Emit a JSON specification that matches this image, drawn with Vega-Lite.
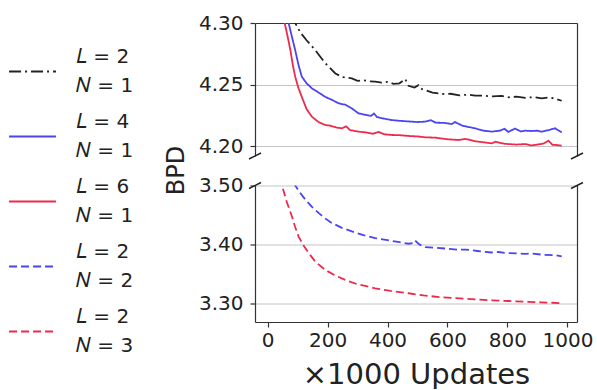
{
  "$schema": "https://vega.github.io/schema/vega-lite/v6.json",
  "padding": {"top": 13, "left": 8, "right": 5, "bottom": 0},
  "background": "white",
  "datasets": {
    "curves": [
      {"s": "𝐿 = 2|𝑁 = 1", "u": 10, "v": 4.70}, {"s": "𝐿 = 2|𝑁 = 1", "u": 30, "v": 4.50}, {"s": "𝐿 = 2|𝑁 = 1", "u": 50, "v": 4.40}, {"s": "𝐿 = 2|𝑁 = 1", "u": 70, "v": 4.34}, {"s": "𝐿 = 2|𝑁 = 1", "u": 92, "v": 4.30}, {"s": "𝐿 = 2|𝑁 = 1", "u": 110, "v": 4.292}, {"s": "𝐿 = 2|𝑁 = 1", "u": 130, "v": 4.286}, {"s": "𝐿 = 2|𝑁 = 1", "u": 159, "v": 4.278}, {"s": "𝐿 = 2|𝑁 = 1", "u": 190, "v": 4.268}, {"s": "𝐿 = 2|𝑁 = 1", "u": 226, "v": 4.259}, {"s": "𝐿 = 2|𝑁 = 1", "u": 250, "v": 4.256}, {"s": "𝐿 = 2|𝑁 = 1", "u": 281, "v": 4.255}, {"s": "𝐿 = 2|𝑁 = 1", "u": 300, "v": 4.253}, {"s": "𝐿 = 2|𝑁 = 1", "u": 320, "v": 4.2535}, {"s": "𝐿 = 2|𝑁 = 1", "u": 340, "v": 4.2525}, {"s": "𝐿 = 2|𝑁 = 1", "u": 359, "v": 4.2523}, {"s": "𝐿 = 2|𝑁 = 1", "u": 380, "v": 4.2515}, {"s": "𝐿 = 2|𝑁 = 1", "u": 400, "v": 4.2522}, {"s": "𝐿 = 2|𝑁 = 1", "u": 420, "v": 4.2505}, {"s": "𝐿 = 2|𝑁 = 1", "u": 440, "v": 4.251}, {"s": "𝐿 = 2|𝑁 = 1", "u": 459, "v": 4.2545}, {"s": "𝐿 = 2|𝑁 = 1", "u": 470, "v": 4.249}, {"s": "𝐿 = 2|𝑁 = 1", "u": 490, "v": 4.2475}, {"s": "𝐿 = 2|𝑁 = 1", "u": 503, "v": 4.2495}, {"s": "𝐿 = 2|𝑁 = 1", "u": 515, "v": 4.2462}, {"s": "𝐿 = 2|𝑁 = 1", "u": 526, "v": 4.2455}, {"s": "𝐿 = 2|𝑁 = 1", "u": 550, "v": 4.2435}, {"s": "𝐿 = 2|𝑁 = 1", "u": 581, "v": 4.2423}, {"s": "𝐿 = 2|𝑁 = 1", "u": 610, "v": 4.2425}, {"s": "𝐿 = 2|𝑁 = 1", "u": 640, "v": 4.2412}, {"s": "𝐿 = 2|𝑁 = 1", "u": 670, "v": 4.2418}, {"s": "𝐿 = 2|𝑁 = 1", "u": 692, "v": 4.2409}, {"s": "𝐿 = 2|𝑁 = 1", "u": 720, "v": 4.241}, {"s": "𝐿 = 2|𝑁 = 1", "u": 750, "v": 4.2403}, {"s": "𝐿 = 2|𝑁 = 1", "u": 780, "v": 4.2408}, {"s": "𝐿 = 2|𝑁 = 1", "u": 803, "v": 4.2396}, {"s": "𝐿 = 2|𝑁 = 1", "u": 830, "v": 4.2402}, {"s": "𝐿 = 2|𝑁 = 1", "u": 860, "v": 4.2392}, {"s": "𝐿 = 2|𝑁 = 1", "u": 890, "v": 4.2398}, {"s": "𝐿 = 2|𝑁 = 1", "u": 914, "v": 4.2388}, {"s": "𝐿 = 2|𝑁 = 1", "u": 940, "v": 4.2395}, {"s": "𝐿 = 2|𝑁 = 1", "u": 960, "v": 4.2385}, {"s": "𝐿 = 2|𝑁 = 1", "u": 981, "v": 4.2368},

      {"s": "𝐿 = 4|𝑁 = 1", "u": 10, "v": 4.75}, {"s": "𝐿 = 4|𝑁 = 1", "u": 30, "v": 4.50}, {"s": "𝐿 = 4|𝑁 = 1", "u": 50, "v": 4.36}, {"s": "𝐿 = 4|𝑁 = 1", "u": 70, "v": 4.30}, {"s": "𝐿 = 4|𝑁 = 1", "u": 82, "v": 4.288}, {"s": "𝐿 = 4|𝑁 = 1", "u": 92, "v": 4.278}, {"s": "𝐿 = 4|𝑁 = 1", "u": 103, "v": 4.266}, {"s": "𝐿 = 4|𝑁 = 1", "u": 114, "v": 4.2564}, {"s": "𝐿 = 4|𝑁 = 1", "u": 130, "v": 4.251}, {"s": "𝐿 = 4|𝑁 = 1", "u": 148, "v": 4.2469}, {"s": "𝐿 = 4|𝑁 = 1", "u": 170, "v": 4.2435}, {"s": "𝐿 = 4|𝑁 = 1", "u": 192, "v": 4.240}, {"s": "𝐿 = 4|𝑁 = 1", "u": 215, "v": 4.2375}, {"s": "𝐿 = 4|𝑁 = 1", "u": 237, "v": 4.2347}, {"s": "𝐿 = 4|𝑁 = 1", "u": 260, "v": 4.2335}, {"s": "𝐿 = 4|𝑁 = 1", "u": 281, "v": 4.2306}, {"s": "𝐿 = 4|𝑁 = 1", "u": 303, "v": 4.2266}, {"s": "𝐿 = 4|𝑁 = 1", "u": 330, "v": 4.2252}, {"s": "𝐿 = 4|𝑁 = 1", "u": 345, "v": 4.2245}, {"s": "𝐿 = 4|𝑁 = 1", "u": 355, "v": 4.2264}, {"s": "𝐿 = 4|𝑁 = 1", "u": 365, "v": 4.2235}, {"s": "𝐿 = 4|𝑁 = 1", "u": 390, "v": 4.2222}, {"s": "𝐿 = 4|𝑁 = 1", "u": 414, "v": 4.2211}, {"s": "𝐿 = 4|𝑁 = 1", "u": 440, "v": 4.2205}, {"s": "𝐿 = 4|𝑁 = 1", "u": 470, "v": 4.2200}, {"s": "𝐿 = 4|𝑁 = 1", "u": 500, "v": 4.2195}, {"s": "𝐿 = 4|𝑁 = 1", "u": 526, "v": 4.2198}, {"s": "𝐿 = 4|𝑁 = 1", "u": 545, "v": 4.2210}, {"s": "𝐿 = 4|𝑁 = 1", "u": 560, "v": 4.2190}, {"s": "𝐿 = 4|𝑁 = 1", "u": 590, "v": 4.2188}, {"s": "𝐿 = 4|𝑁 = 1", "u": 614, "v": 4.2179}, {"s": "𝐿 = 4|𝑁 = 1", "u": 625, "v": 4.2195}, {"s": "𝐿 = 4|𝑁 = 1", "u": 650, "v": 4.2165}, {"s": "𝐿 = 4|𝑁 = 1", "u": 692, "v": 4.2144}, {"s": "𝐿 = 4|𝑁 = 1", "u": 720, "v": 4.2125}, {"s": "𝐿 = 4|𝑁 = 1", "u": 748, "v": 4.2117}, {"s": "𝐿 = 4|𝑁 = 1", "u": 775, "v": 4.2125}, {"s": "𝐿 = 4|𝑁 = 1", "u": 790, "v": 4.2140}, {"s": "𝐿 = 4|𝑁 = 1", "u": 803, "v": 4.2115}, {"s": "𝐿 = 4|𝑁 = 1", "u": 825, "v": 4.2142}, {"s": "𝐿 = 4|𝑁 = 1", "u": 845, "v": 4.2118}, {"s": "𝐿 = 4|𝑁 = 1", "u": 859, "v": 4.2125}, {"s": "𝐿 = 4|𝑁 = 1", "u": 880, "v": 4.2122}, {"s": "𝐿 = 4|𝑁 = 1", "u": 900, "v": 4.2125}, {"s": "𝐿 = 4|𝑁 = 1", "u": 914, "v": 4.2117}, {"s": "𝐿 = 4|𝑁 = 1", "u": 935, "v": 4.2128}, {"s": "𝐿 = 4|𝑁 = 1", "u": 959, "v": 4.2144}, {"s": "𝐿 = 4|𝑁 = 1", "u": 981, "v": 4.2111},

      {"s": "𝐿 = 6|𝑁 = 1", "u": 10, "v": 4.70}, {"s": "𝐿 = 6|𝑁 = 1", "u": 30, "v": 4.45}, {"s": "𝐿 = 6|𝑁 = 1", "u": 45, "v": 4.34}, {"s": "𝐿 = 6|𝑁 = 1", "u": 57, "v": 4.30}, {"s": "𝐿 = 6|𝑁 = 1", "u": 66, "v": 4.29}, {"s": "𝐿 = 6|𝑁 = 1", "u": 76, "v": 4.278}, {"s": "𝐿 = 6|𝑁 = 1", "u": 84, "v": 4.266}, {"s": "𝐿 = 6|𝑁 = 1", "u": 92, "v": 4.2564}, {"s": "𝐿 = 6|𝑁 = 1", "u": 103, "v": 4.247}, {"s": "𝐿 = 6|𝑁 = 1", "u": 114, "v": 4.240}, {"s": "𝐿 = 6|𝑁 = 1", "u": 130, "v": 4.230}, {"s": "𝐿 = 6|𝑁 = 1", "u": 148, "v": 4.2238}, {"s": "𝐿 = 6|𝑁 = 1", "u": 170, "v": 4.2195}, {"s": "𝐿 = 6|𝑁 = 1", "u": 192, "v": 4.2171}, {"s": "𝐿 = 6|𝑁 = 1", "u": 210, "v": 4.2165}, {"s": "𝐿 = 6|𝑁 = 1", "u": 230, "v": 4.2150}, {"s": "𝐿 = 6|𝑁 = 1", "u": 248, "v": 4.2144}, {"s": "𝐿 = 6|𝑁 = 1", "u": 262, "v": 4.2160}, {"s": "𝐿 = 6|𝑁 = 1", "u": 275, "v": 4.2130}, {"s": "𝐿 = 6|𝑁 = 1", "u": 303, "v": 4.2117}, {"s": "𝐿 = 6|𝑁 = 1", "u": 330, "v": 4.2110}, {"s": "𝐿 = 6|𝑁 = 1", "u": 350, "v": 4.2100}, {"s": "𝐿 = 6|𝑁 = 1", "u": 370, "v": 4.2114}, {"s": "𝐿 = 6|𝑁 = 1", "u": 390, "v": 4.2095}, {"s": "𝐿 = 6|𝑁 = 1", "u": 414, "v": 4.2090}, {"s": "𝐿 = 6|𝑁 = 1", "u": 440, "v": 4.2088}, {"s": "𝐿 = 6|𝑁 = 1", "u": 470, "v": 4.2082}, {"s": "𝐿 = 6|𝑁 = 1", "u": 500, "v": 4.2078}, {"s": "𝐿 = 6|𝑁 = 1", "u": 526, "v": 4.2071}, {"s": "𝐿 = 6|𝑁 = 1", "u": 560, "v": 4.2068}, {"s": "𝐿 = 6|𝑁 = 1", "u": 600, "v": 4.2055}, {"s": "𝐿 = 6|𝑁 = 1", "u": 637, "v": 4.2049}, {"s": "𝐿 = 6|𝑁 = 1", "u": 660, "v": 4.2058}, {"s": "𝐿 = 6|𝑁 = 1", "u": 690, "v": 4.2040}, {"s": "𝐿 = 6|𝑁 = 1", "u": 720, "v": 4.2030}, {"s": "𝐿 = 6|𝑁 = 1", "u": 748, "v": 4.2022}, {"s": "𝐿 = 6|𝑁 = 1", "u": 760, "v": 4.2035}, {"s": "𝐿 = 6|𝑁 = 1", "u": 790, "v": 4.2018}, {"s": "𝐿 = 6|𝑁 = 1", "u": 830, "v": 4.2012}, {"s": "𝐿 = 6|𝑁 = 1", "u": 859, "v": 4.2016}, {"s": "𝐿 = 6|𝑁 = 1", "u": 880, "v": 4.2005}, {"s": "𝐿 = 6|𝑁 = 1", "u": 900, "v": 4.2012}, {"s": "𝐿 = 6|𝑁 = 1", "u": 920, "v": 4.2020}, {"s": "𝐿 = 6|𝑁 = 1", "u": 937, "v": 4.2043}, {"s": "𝐿 = 6|𝑁 = 1", "u": 950, "v": 4.2010}, {"s": "𝐿 = 6|𝑁 = 1", "u": 965, "v": 4.2008}, {"s": "𝐿 = 6|𝑁 = 1", "u": 981, "v": 4.2003},

      {"s": "𝐿 = 2|𝑁 = 2", "u": 10, "v": 3.85}, {"s": "𝐿 = 2|𝑁 = 2", "u": 40, "v": 3.68}, {"s": "𝐿 = 2|𝑁 = 2", "u": 70, "v": 3.56}, {"s": "𝐿 = 2|𝑁 = 2", "u": 92, "v": 3.50}, {"s": "𝐿 = 2|𝑁 = 2", "u": 108, "v": 3.488}, {"s": "𝐿 = 2|𝑁 = 2", "u": 126, "v": 3.476}, {"s": "𝐿 = 2|𝑁 = 2", "u": 148, "v": 3.4635}, {"s": "𝐿 = 2|𝑁 = 2", "u": 170, "v": 3.4533}, {"s": "𝐿 = 2|𝑁 = 2", "u": 192, "v": 3.444}, {"s": "𝐿 = 2|𝑁 = 2", "u": 214, "v": 3.4362}, {"s": "𝐿 = 2|𝑁 = 2", "u": 248, "v": 3.428}, {"s": "𝐿 = 2|𝑁 = 2", "u": 281, "v": 3.4219}, {"s": "𝐿 = 2|𝑁 = 2", "u": 320, "v": 3.4155}, {"s": "𝐿 = 2|𝑁 = 2", "u": 359, "v": 3.4106}, {"s": "𝐿 = 2|𝑁 = 2", "u": 400, "v": 3.407}, {"s": "𝐿 = 2|𝑁 = 2", "u": 440, "v": 3.4035}, {"s": "𝐿 = 2|𝑁 = 2", "u": 470, "v": 3.4009}, {"s": "𝐿 = 2|𝑁 = 2", "u": 485, "v": 3.402}, {"s": "𝐿 = 2|𝑁 = 2", "u": 492, "v": 3.4065}, {"s": "𝐿 = 2|𝑁 = 2", "u": 505, "v": 3.400}, {"s": "𝐿 = 2|𝑁 = 2", "u": 526, "v": 3.3952}, {"s": "𝐿 = 2|𝑁 = 2", "u": 560, "v": 3.394}, {"s": "𝐿 = 2|𝑁 = 2", "u": 600, "v": 3.3925}, {"s": "𝐿 = 2|𝑁 = 2", "u": 637, "v": 3.3906}, {"s": "𝐿 = 2|𝑁 = 2", "u": 660, "v": 3.391}, {"s": "𝐿 = 2|𝑁 = 2", "u": 700, "v": 3.3885}, {"s": "𝐿 = 2|𝑁 = 2", "u": 748, "v": 3.386}, {"s": "𝐿 = 2|𝑁 = 2", "u": 770, "v": 3.3868}, {"s": "𝐿 = 2|𝑁 = 2", "u": 800, "v": 3.3848}, {"s": "𝐿 = 2|𝑁 = 2", "u": 830, "v": 3.3845}, {"s": "𝐿 = 2|𝑁 = 2", "u": 859, "v": 3.3838}, {"s": "𝐿 = 2|𝑁 = 2", "u": 880, "v": 3.3845}, {"s": "𝐿 = 2|𝑁 = 2", "u": 920, "v": 3.382}, {"s": "𝐿 = 2|𝑁 = 2", "u": 960, "v": 3.3815}, {"s": "𝐿 = 2|𝑁 = 2", "u": 981, "v": 3.3792},

      {"s": "𝐿 = 2|𝑁 = 3", "u": 10, "v": 3.80}, {"s": "𝐿 = 2|𝑁 = 3", "u": 30, "v": 3.60}, {"s": "𝐿 = 2|𝑁 = 3", "u": 48, "v": 3.50}, {"s": "𝐿 = 2|𝑁 = 3", "u": 64, "v": 3.472}, {"s": "𝐿 = 2|𝑁 = 3", "u": 81, "v": 3.4476}, {"s": "𝐿 = 2|𝑁 = 3", "u": 92, "v": 3.4295}, {"s": "𝐿 = 2|𝑁 = 3", "u": 103, "v": 3.4134}, {"s": "𝐿 = 2|𝑁 = 3", "u": 120, "v": 3.398}, {"s": "𝐿 = 2|𝑁 = 3", "u": 137, "v": 3.385}, {"s": "𝐿 = 2|𝑁 = 3", "u": 160, "v": 3.370}, {"s": "𝐿 = 2|𝑁 = 3", "u": 192, "v": 3.3564}, {"s": "𝐿 = 2|𝑁 = 3", "u": 225, "v": 3.347}, {"s": "𝐿 = 2|𝑁 = 3", "u": 259, "v": 3.3393}, {"s": "𝐿 = 2|𝑁 = 3", "u": 300, "v": 3.3318}, {"s": "𝐿 = 2|𝑁 = 3", "u": 359, "v": 3.3251}, {"s": "𝐿 = 2|𝑁 = 3", "u": 410, "v": 3.3205}, {"s": "𝐿 = 2|𝑁 = 3", "u": 470, "v": 3.3166}, {"s": "𝐿 = 2|𝑁 = 3", "u": 520, "v": 3.3130}, {"s": "𝐿 = 2|𝑁 = 3", "u": 581, "v": 3.3097}, {"s": "𝐿 = 2|𝑁 = 3", "u": 640, "v": 3.3080}, {"s": "𝐿 = 2|𝑁 = 3", "u": 692, "v": 3.3063}, {"s": "𝐿 = 2|𝑁 = 3", "u": 750, "v": 3.3046}, {"s": "𝐿 = 2|𝑁 = 3", "u": 803, "v": 3.3034}, {"s": "𝐿 = 2|𝑁 = 3", "u": 860, "v": 3.3022}, {"s": "𝐿 = 2|𝑁 = 3", "u": 914, "v": 3.3012}, {"s": "𝐿 = 2|𝑁 = 3", "u": 950, "v": 3.3005}, {"s": "𝐿 = 2|𝑁 = 3", "u": 981, "v": 3.2995}
    ],
    "breaks": [
      {"panel": "top", "u": -42, "v": 4.1919}, {"panel": "top", "u": 1032, "v": 4.1919},
      {"panel": "bottom", "u": -42, "v": 3.50}, {"panel": "bottom", "u": 1032, "v": 3.50}
    ]
  },
  "vconcat": [
    {
      "width": 322,
      "height": 133,
      "resolve": {"scale": {"y": "independent"}, "axis": {"y": "independent"}},
      "layer": [
        {
          "data": {"name": "curves"},
          "transform": [{"filter": "indexof(datum.s, '𝑁 = 1') >= 0"}],
          "mark": {"type": "line", "clip": true, "strokeWidth": 1.8},
          "encoding": {
            "x": {"field": "u", "type": "quantitative", "scale": {"domain": [-42, 1032], "nice": false, "zero": false},
                  "axis": {"orient": "top", "labels": false, "ticks": false, "grid": false, "title": null, "domain": true}},
            "y": {"field": "v", "type": "quantitative", "scale": {"domain": [4.1919, 4.30], "nice": false, "zero": false},
                  "axis": {"values": [4.20, 4.25, 4.30], "format": ".2f", "grid": true, "title": "BPD",
                           "titleFontSize": 24, "titleFontWeight": "normal", "titleColor": "#222",
                           "titleAngle": -90, "titleBaseline": "alphabetic", "titleX": -72, "titleY": 147}},
            "color": {"field": "s", "type": "nominal",
                      "scale": {"domain": ["𝐿 = 2|𝑁 = 1", "𝐿 = 4|𝑁 = 1", "𝐿 = 6|𝑁 = 1", "𝐿 = 2|𝑁 = 2", "𝐿 = 2|𝑁 = 3"],
                                "range": ["#222222", "#4a44f2", "#ee2a4c", "#4a44f2", "#ee2a4c"]},
                      "legend": {"title": null, "labelExpr": "split(datum.label, '|')",
                                 "encode": {"labels": {"update": {"lineHeight": {"value": 29}, "dy": {"value": -14.5}}}}}},
            "strokeDash": {"field": "s", "type": "nominal",
                      "scale": {"domain": ["𝐿 = 2|𝑁 = 1", "𝐿 = 4|𝑁 = 1", "𝐿 = 6|𝑁 = 1", "𝐿 = 2|𝑁 = 2", "𝐿 = 2|𝑁 = 3"],
                                "range": [[12, 4, 2, 4], [1, 0], [1, 0], [8, 4], [8, 4]]},
                      "legend": {"title": null, "labelExpr": "split(datum.label, '|')",
                                 "encode": {"labels": {"update": {"lineHeight": {"value": 29}, "dy": {"value": -14.5}}}}}}
          }
        },
        {
          "data": {"name": "breaks"},
          "transform": [{"filter": "datum.panel == 'top'"}],
          "mark": {"type": "point", "shape": "M -1 0.5 L 1 -0.5", "filled": false, "stroke": "#222", "strokeWidth": 1.5, "size": 144, "opacity": 1, "clip": false},
          "encoding": {
            "x": {"field": "u", "type": "quantitative", "scale": {"domain": [-42, 1032], "nice": false, "zero": false}},
            "y": {"field": "v", "type": "quantitative", "scale": {"domain": [4.1919, 4.30], "nice": false, "zero": false},
                  "axis": {"orient": "right", "labels": false, "ticks": false, "grid": false, "title": null, "domain": true}}
          }
        }
      ]
    },
    {
      "width": 322,
      "height": 136.5,
      "resolve": {"scale": {"y": "independent"}, "axis": {"y": "independent"}},
      "layer": [
        {
          "data": {"name": "curves"},
          "transform": [{"filter": "indexof(datum.s, '𝑁 = 1') < 0"}],
          "mark": {"type": "line", "clip": true, "strokeWidth": 1.8},
          "encoding": {
            "x": {"field": "u", "type": "quantitative", "scale": {"domain": [-42, 1032], "nice": false, "zero": false},
                  "axis": {"values": [0, 200, 400, 600, 800, 1000], "format": "d", "grid": false, "title": "×1000 Updates",
                           "titleFontSize": 29, "titleFontWeight": "normal", "titleColor": "#222", "titlePadding": 10, "labelPadding": 3}},
            "y": {"field": "v", "type": "quantitative", "scale": {"domain": [3.2677, 3.50], "nice": false, "zero": false},
                  "axis": {"values": [3.30, 3.40, 3.50], "format": ".2f", "grid": true, "title": null}},
            "color": {"field": "s", "type": "nominal",
                      "scale": {"domain": ["𝐿 = 2|𝑁 = 1", "𝐿 = 4|𝑁 = 1", "𝐿 = 6|𝑁 = 1", "𝐿 = 2|𝑁 = 2", "𝐿 = 2|𝑁 = 3"],
                                "range": ["#222222", "#4a44f2", "#ee2a4c", "#4a44f2", "#ee2a4c"]},
                      "legend": {"title": null, "labelExpr": "split(datum.label, '|')",
                                 "encode": {"labels": {"update": {"lineHeight": {"value": 29}, "dy": {"value": -14.5}}}}}},
            "strokeDash": {"field": "s", "type": "nominal",
                      "scale": {"domain": ["𝐿 = 2|𝑁 = 1", "𝐿 = 4|𝑁 = 1", "𝐿 = 6|𝑁 = 1", "𝐿 = 2|𝑁 = 2", "𝐿 = 2|𝑁 = 3"],
                                "range": [[12, 4, 2, 4], [1, 0], [1, 0], [8, 4], [8, 4]]},
                      "legend": {"title": null, "labelExpr": "split(datum.label, '|')",
                                 "encode": {"labels": {"update": {"lineHeight": {"value": 29}, "dy": {"value": -14.5}}}}}}
          }
        },
        {
          "data": {"name": "breaks"},
          "transform": [{"filter": "datum.panel == 'bottom'"}],
          "mark": {"type": "point", "shape": "M -1 0.5 L 1 -0.5", "filled": false, "stroke": "#222", "strokeWidth": 1.5, "size": 144, "opacity": 1, "clip": false},
          "encoding": {
            "x": {"field": "u", "type": "quantitative", "scale": {"domain": [-42, 1032], "nice": false, "zero": false}},
            "y": {"field": "v", "type": "quantitative", "scale": {"domain": [3.2677, 3.50], "nice": false, "zero": false},
                  "axis": {"orient": "right", "labels": false, "ticks": false, "grid": false, "title": null, "domain": true}}
          }
        }
      ]
    }
  ],
  "spacing": 29.5,
  "bounds": "flush",
  "resolve": {"scale": {"x": "independent", "y": "independent"}},
  "config": {
    "view": {"stroke": null},
    "font": "DejaVu Sans",
    "axis": {"labelFont": "DejaVu Sans", "labelFontSize": 20, "labelColor": "#222", "domainColor": "#333", "domainWidth": 1.2,
             "tickColor": "#333", "tickSize": 5, "tickWidth": 1.2, "gridColor": "#c4c4c4", "gridWidth": 1, "labelPadding": 7,
             "titleFont": "DejaVu Sans"},
    "legend": {"orient": "left", "symbolType": "stroke", "symbolSize": 2200, "symbolStrokeWidth": 2, "labelFont": "DejaVu Sans",
               "labelFontSize": 20, "labelColor": "#222", "labelOffset": 19, "labelLimit": 0, "rowPadding": 16, "offset": 30, "padding": 0,
               "layout": {"left": {"anchor": "middle"}}}
  }
}
